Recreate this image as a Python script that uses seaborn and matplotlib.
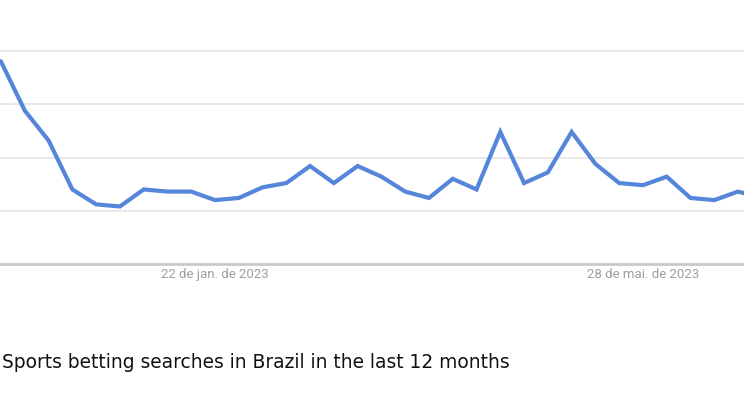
import pandas as pd
import seaborn as sns
import matplotlib.pyplot as plt

# weekly search interest (Google Trends style, 0-100), first/last points fall just off the visible area
weeks = pd.date_range("2022-11-13", periods=34, freq="7D")
interest = [100, 95, 72, 58, 35, 28, 27, 35, 34, 34, 30, 31, 36, 38, 46, 38, 46,
            41, 34, 31, 40, 35, 62, 38, 43, 62, 47, 38, 37, 41, 31, 30, 34, 31]
tick_dates = pd.to_datetime(["2023-01-22", "2023-05-28"])
tick_labels = ["22 de jan. de 2023", "28 de mai. de 2023"]
caption = "Sports betting searches in Brazil in the last 12 months"

df = pd.DataFrame({"week": weeks, "interest": interest})

sns.set_style("white")
plt.rcParams["font.family"] = ["DejaVu Sans"]

fig = plt.figure(figsize=(7.44, 4.2), dpi=100)
# 0 sits at y=264px, 100 at y=51px
px_per_unit = 2.13
ymax = 120
bottom = (420 - 264) / 420
height = ymax * px_per_unit / 420
ax = fig.add_axes([0, bottom, 1, height])

for v in [25, 50, 75, 100]:
    ax.axhline(v, color="#e3e3e3", lw=1.1, zorder=0)

sns.lineplot(data=df, x="week", y="interest", ax=ax, color="#5686d9", lw=3.0,
             solid_joinstyle="miter", zorder=3)

start = pd.Timestamp("2022-11-20")
ax.set_xlim(start - pd.Timedelta(days=0.3), start + pd.Timedelta(weeks=31.25))
ax.set_ylim(0, ymax)
ax.axhline(0, color="#c9c9c9", lw=2, zorder=2, clip_on=False)

ax.set_yticks([])
ax.set_xticks(tick_dates)
ax.set_xticklabels(tick_labels, family=["Roboto", "DejaVu Sans"], fontsize=9.5, color="#9e9e9e")
ax.tick_params(axis="x", length=0, pad=3)
ax.set_xlabel("")
ax.set_ylabel("")
for s in ax.spines.values():
    s.set_visible(False)

fig.text(2 / 744, (420 - 368) / 420, caption, ha="left", va="baseline",
         fontsize=13.4, color="#111111")

fig.savefig("out.png", dpi=100)
